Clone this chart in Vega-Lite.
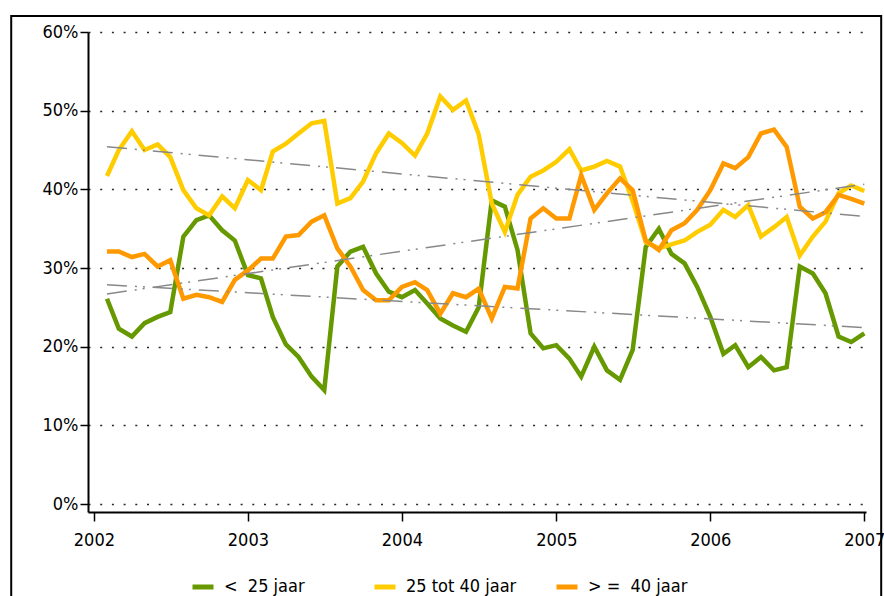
{
  "$schema": "https://vega.github.io/schema/vega-lite/v6.json",
  "width": 778,
  "height": 480,
  "autosize": {"type": "none"},
  "padding": {"left": 88, "top": 32, "right": 18, "bottom": 84},
  "background": "white",
  "config": {
    "view": {"stroke": null},
    "font": "DejaVu Sans Condensed, Liberation Sans, sans-serif"
  },
  "data": {
    "values": [
      {"date":"2002-02-01","young":0.261,"mid":0.417,"old":0.321},
      {"date":"2002-03-01","young":0.223,"mid":0.450,"old":0.321},
      {"date":"2002-04-01","young":0.213,"mid":0.474,"old":0.314},
      {"date":"2002-05-01","young":0.230,"mid":0.450,"old":0.318},
      {"date":"2002-06-01","young":0.238,"mid":0.457,"old":0.302},
      {"date":"2002-07-01","young":0.244,"mid":0.441,"old":0.310},
      {"date":"2002-08-01","young":0.340,"mid":0.399,"old":0.261},
      {"date":"2002-09-01","young":0.361,"mid":0.376,"old":0.266},
      {"date":"2002-10-01","young":0.367,"mid":0.367,"old":0.263},
      {"date":"2002-11-01","young":0.348,"mid":0.391,"old":0.257},
      {"date":"2002-12-01","young":0.335,"mid":0.376,"old":0.285},
      {"date":"2003-01-01","young":0.291,"mid":0.412,"old":0.297},
      {"date":"2003-02-01","young":0.287,"mid":0.399,"old":0.312},
      {"date":"2003-03-01","young":0.238,"mid":0.448,"old":0.312},
      {"date":"2003-04-01","young":0.203,"mid":0.458,"old":0.340},
      {"date":"2003-05-01","young":0.187,"mid":0.471,"old":0.342},
      {"date":"2003-06-01","young":0.162,"mid":0.484,"old":0.359},
      {"date":"2003-07-01","young":0.145,"mid":0.487,"old":0.367},
      {"date":"2003-08-01","young":0.302,"mid":0.382,"old":0.325},
      {"date":"2003-09-01","young":0.321,"mid":0.389,"old":0.302},
      {"date":"2003-10-01","young":0.327,"mid":0.410,"old":0.272},
      {"date":"2003-11-01","young":0.293,"mid":0.446,"old":0.259},
      {"date":"2003-12-01","young":0.270,"mid":0.471,"old":0.259},
      {"date":"2004-01-01","young":0.263,"mid":0.459,"old":0.276},
      {"date":"2004-02-01","young":0.272,"mid":0.443,"old":0.282},
      {"date":"2004-03-01","young":0.255,"mid":0.471,"old":0.272},
      {"date":"2004-04-01","young":0.236,"mid":0.518,"old":0.242},
      {"date":"2004-05-01","young":0.227,"mid":0.501,"old":0.268},
      {"date":"2004-06-01","young":0.219,"mid":0.513,"old":0.263},
      {"date":"2004-07-01","young":0.250,"mid":0.470,"old":0.274},
      {"date":"2004-08-01","young":0.386,"mid":0.382,"old":0.236},
      {"date":"2004-09-01","young":0.378,"mid":0.346,"old":0.276},
      {"date":"2004-10-01","young":0.323,"mid":0.393,"old":0.274},
      {"date":"2004-11-01","young":0.217,"mid":0.416,"old":0.363},
      {"date":"2004-12-01","young":0.198,"mid":0.424,"old":0.376},
      {"date":"2005-01-01","young":0.202,"mid":0.435,"old":0.363},
      {"date":"2005-02-01","young":0.185,"mid":0.451,"old":0.363},
      {"date":"2005-03-01","young":0.162,"mid":0.424,"old":0.418},
      {"date":"2005-04-01","young":0.200,"mid":0.429,"old":0.374},
      {"date":"2005-05-01","young":0.170,"mid":0.436,"old":0.395},
      {"date":"2005-06-01","young":0.158,"mid":0.429,"old":0.414},
      {"date":"2005-07-01","young":0.196,"mid":0.385,"old":0.399},
      {"date":"2005-08-01","young":0.327,"mid":0.333,"old":0.335},
      {"date":"2005-09-01","young":0.350,"mid":0.325,"old":0.323},
      {"date":"2005-10-01","young":0.318,"mid":0.330,"old":0.348},
      {"date":"2005-11-01","young":0.306,"mid":0.335,"old":0.357},
      {"date":"2005-12-01","young":0.276,"mid":0.346,"old":0.374},
      {"date":"2006-01-01","young":0.238,"mid":0.355,"old":0.399},
      {"date":"2006-02-01","young":0.191,"mid":0.374,"old":0.433},
      {"date":"2006-03-01","young":0.202,"mid":0.365,"old":0.427},
      {"date":"2006-04-01","young":0.174,"mid":0.380,"old":0.441},
      {"date":"2006-05-01","young":0.187,"mid":0.340,"old":0.471},
      {"date":"2006-06-01","young":0.170,"mid":0.352,"old":0.476},
      {"date":"2006-07-01","young":0.174,"mid":0.365,"old":0.454},
      {"date":"2006-08-01","young":0.302,"mid":0.316,"old":0.378},
      {"date":"2006-09-01","young":0.293,"mid":0.340,"old":0.363},
      {"date":"2006-10-01","young":0.268,"mid":0.359,"old":0.371},
      {"date":"2006-11-01","young":0.213,"mid":0.395,"old":0.393},
      {"date":"2006-12-01","young":0.206,"mid":0.405,"old":0.388},
      {"date":"2007-01-01","young":0.217,"mid":0.398,"old":0.382}
    ]
  },
  "layer": [
    {
      "data": {"values": [{}]},
      "mark": {"type": "rect", "fill": null, "stroke": "#000", "strokeWidth": 2, "clip": false},
      "encoding": {
        "x": {"datum": {"year": 2001, "month": 6, "date": 19, "utc": true}, "type": "temporal"},
        "x2": {"datum": {"year": 2007, "month": 2, "date": 10, "utc": true}},
        "y": {"datum": 0.6203, "type": "quantitative"},
        "y2": {"datum": -0.14}
      }
    },
    {
      "transform": [{"fold": ["young", "mid", "old"], "as": ["group", "pct"]}],
      "mark": {"type": "line", "strokeWidth": 4.5},
      "encoding": {
        "x": {
          "field": "date", "type": "temporal",
          "scale": {"type": "utc", "domain": [{"year": 2001, "month": 12, "date": 18, "utc": true}, {"year": 2007, "month": 1, "date": 5, "utc": true}]},
          "axis": {
            "title": null, "grid": false, "format": "%Y",
            "values": [{"year": 2002, "utc": true}, {"year": 2003, "utc": true}, {"year": 2004, "utc": true}, {"year": 2005, "utc": true}, {"year": 2006, "utc": true}, {"year": 2007, "utc": true}],
            "domainColor": "#000", "domainWidth": 2, "tickColor": "#000", "tickWidth": 1.5, "tickSize": 9,
            "labelFontSize": 18, "labelColor": "#000", "labelPadding": 10, "labelFlush": false, "labelOverlap": false
          }
        },
        "y": {
          "field": "pct", "type": "quantitative",
          "scale": {"domain": [-0.01, 0.6], "nice": false, "zero": false},
          "axis": {
            "title": null, "format": ".0%", "values": [0, 0.1, 0.2, 0.3, 0.4, 0.5, 0.6],
            "grid": true, "gridColor": "#000", "gridDash": [2, 9.7], "gridWidth": 1.5, "gridOpacity": 0.85,
            "domainColor": "#000", "domainWidth": 2, "tickColor": "#000", "tickWidth": 1.5, "tickSize": 8,
            "labelFontSize": 18, "labelColor": "#000", "labelPadding": 2
          }
        },
        "color": {
          "field": "group", "type": "nominal",
          "scale": {"domain": ["young", "mid", "old"], "range": ["#669900", "#FFCC00", "#FF9900"]},
          "legend": {
            "title": null, "orient": "none", "legendX": 102, "legendY": 542, "direction": "horizontal",
            "columns": 3, "gridAlign": "all", "columnPadding": 29, "padding": 0,
            "symbolType": "stroke", "symbolStrokeWidth": 5, "symbolSize": 441,
            "labelFontSize": 18, "labelColor": "#000", "labelOffset": 8, "labelLimit": 300,
            "labelExpr": "datum.label == 'young' ? '<\u00a0\u00a025 jaar' : datum.label == 'mid' ? '25 tot 40 jaar' : '>\u00a0=\u00a0\u00a040 jaar'"
          }
        }
      }
    },
    {
      "transform": [
        {"fold": ["young", "mid", "old"], "as": ["group", "pct"]},
        {"regression": "pct", "on": "date", "groupby": ["group"]}
      ],
      "mark": {"type": "line", "stroke": "#888888", "strokeWidth": 1.5, "strokeDash": [20, 8, 2, 6, 2, 8]},
      "encoding": {
        "x": {"field": "date", "type": "temporal"},
        "y": {"field": "pct", "type": "quantitative"},
        "detail": {"field": "group"}
      }
    }
  ]
}
